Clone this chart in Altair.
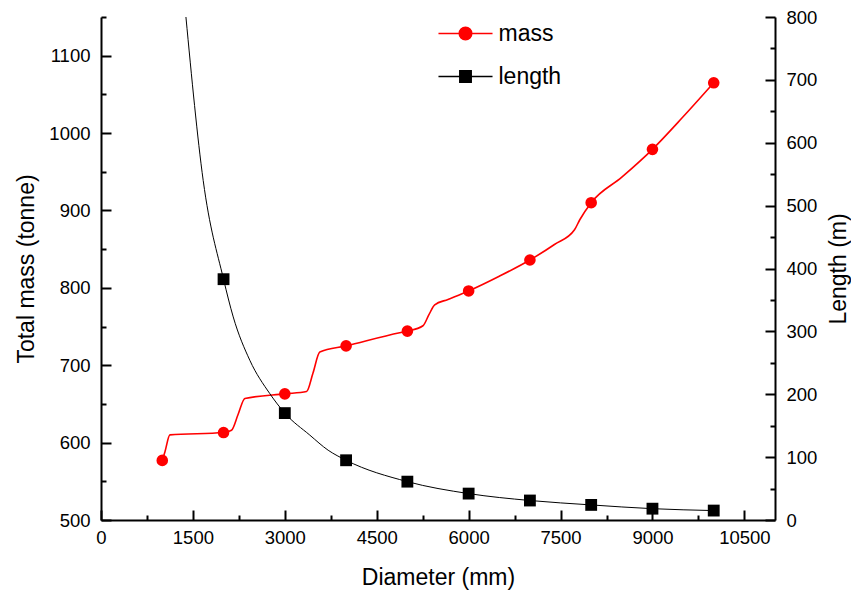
import altair as alt
import pandas as pd

# ---------------- data ----------------
diam_mass = [1000, 2000, 3000, 4000, 5000, 6000, 7000, 8000, 9000, 10000]
mass_pts = [577, 613, 663, 725, 744, 796, 836, 910, 979, 1065]

diam_len = [2000, 3000, 4000, 5000, 6000, 7000, 8000, 9000, 10000]
len_pts = [383, 170, 95, 61, 42, 31, 24, 18, 15]

# continuous model curves
mass_curve_d = [1000, 1043, 1125, 2000, 2130, 2240, 2348, 3000, 3355, 3460, 3571,
                4000, 4875, 5000, 5255, 5350, 5446, 5663, 6000, 6500, 7000, 7400,
                7728, 7814, 8000, 8500, 9000, 9500, 10000]
mass_curve_v = [577, 588, 610, 613, 616, 637, 657, 663, 666, 690, 717,
                725, 742, 744, 751, 765, 778, 785, 796, 815, 836, 856,
                875, 888, 910, 943, 979, 1021, 1065]

len_curve_d = [1386, 1668, 2000, 2158, 2429, 2755, 3000, 3408, 3707, 4000,
               5000, 6000, 7000, 8000, 9000, 10000]
len_curve_v = [800, 540, 383, 323, 254, 201, 170, 135, 111, 95,
               61, 42, 31, 24, 18, 15]

series_names = ["mass", "length"]
series_colors = ["#ff0000", "#000000"]

x_ticks = [0, 1500, 3000, 4500, 6000, 7500, 9000, 10500]
x_minor = [750, 2250, 3750, 5250, 6750, 8250, 9750]
yl_ticks = [500, 600, 700, 800, 900, 1000, 1100]
yl_minor = [550, 650, 750, 850, 950, 1050, 1150]
yr_ticks = [0, 100, 200, 300, 400, 500, 600, 700, 800]
yr_minor = [50, 150, 250, 350, 450, 550, 650, 750]

# ---------------- tables ----------------
mass_df = pd.DataFrame({"d": diam_mass, "v": mass_pts})
len_df = pd.DataFrame({"d": diam_len, "v": len_pts})
mass_curve = pd.DataFrame({"d": mass_curve_d, "v": mass_curve_v})
len_curve = pd.DataFrame({"d": len_curve_d, "v": len_curve_v})
legend_df = pd.DataFrame({"series": series_names})

W, H = 674, 503
FONT = "Liberation Sans"

xs = alt.Scale(domain=[0, 11000], nice=False, zero=False)
yls = alt.Scale(domain=[500, 1150], nice=False, zero=False)
yrs = alt.Scale(domain=[0, 800], nice=False, zero=False)

common = dict(grid=False, labelFont=FONT, labelColor="black", titleFont=FONT,
              titleColor="black", titleFontWeight="normal")


def main_axis(orient, values, title, pad, **kw):
    return alt.Axis(orient=orient, values=values, format="d", title=title,
                    labelFontSize=18.5, labelPadding=pad, ticks=False, tickSize=0,
                    domain=True, domainColor="black", domainWidth=2,
                    titleFontSize=23, labelOverlap=False, labelFlush=False,
                    **common, **kw)


def tick_axis(orient, offset, values, size):
    return alt.Axis(orient=orient, offset=offset, values=values, labels=False,
                    domain=False, ticks=True, tickSize=size, tickWidth=2,
                    tickColor="black", title=None, grid=False)


x_main = main_axis("bottom", x_ticks, "Diameter (mm)", 8,
                   titleX=W / 2, titleY=64, titleAlign="center",
                   titleBaseline="alphabetic")
x_major = tick_axis("top", -H, x_ticks, 10)
x_min = tick_axis("top", -H, x_minor, 5)

yl_main = main_axis("left", yl_ticks, "Total mass (tonne)", 11,
                    titleX=-75, titleY=H / 2, titleAngle=270,
                    titleAlign="center", titleBaseline="middle")
yl_major = tick_axis("right", -W, yl_ticks, 10)
yl_min = tick_axis("right", -W, yl_minor, 5)

yr_main = main_axis("right", yr_ticks, "Length (m)", 11,
                    titleX=63, titleY=H / 2, titleAngle=270,
                    titleAlign="center", titleBaseline="middle")
yr_major = tick_axis("left", -W, yr_ticks, 10)
yr_min = tick_axis("left", -W, yr_minor, 5)

mass_line = alt.Chart(mass_curve).mark_line(
    color="#ff0000", strokeWidth=1.6, interpolate="monotone", clip=True
).encode(
    x=alt.X("d:Q", scale=xs, axis=x_main),
    y=alt.Y("v:Q", scale=yls, axis=yl_main),
)
mass_points = alt.Chart(mass_df).mark_point(
    shape="circle", filled=True, color="#ff0000", size=135, opacity=1
).encode(
    x=alt.X("d:Q", scale=xs, axis=x_major),
    y=alt.Y("v:Q", scale=yls, axis=yl_major),
)
mass_ghost = alt.Chart(mass_df).mark_point(opacity=0).encode(
    x=alt.X("d:Q", scale=xs, axis=x_min),
    y=alt.Y("v:Q", scale=yls, axis=yl_min),
)

len_line = alt.Chart(len_curve).mark_line(
    color="#000000", strokeWidth=1, interpolate="monotone", clip=True
).encode(
    x=alt.X("d:Q", scale=xs, axis=None),
    y=alt.Y("v:Q", scale=yrs, axis=yr_main),
)
len_points = alt.Chart(len_df).mark_point(
    shape="square", filled=True, color="#000000", size=140, opacity=1, clip=True
).encode(
    x=alt.X("d:Q", scale=xs, axis=None),
    y=alt.Y("v:Q", scale=yrs, axis=yr_major),
)
len_ghost = alt.Chart(len_df).mark_point(opacity=0).encode(
    x=alt.X("d:Q", scale=xs, axis=None),
    y=alt.Y("v:Q", scale=yrs, axis=yr_min),
)

# legend symbols: line with marker (unit = 11.5 px)
mass_sym = ("M-2.35,0L2.35,0M-0.55,0A0.55,0.55,0,1,1,0.55,0"
            "A0.55,0.55,0,1,1,-0.55,0Z")
len_sym = "M-2.35,0L2.35,0M-0.5,-0.5L0.5,-0.5L0.5,0.5L-0.5,0.5Z"

leg = alt.Legend(title=None, orient="none", legendX=352, legendY=4,
                 labelFont=FONT, labelFontSize=23, labelColor="black",
                 symbolSize=529, symbolStrokeWidth=1.4, symbolOpacity=1,
                 labelOffset=20.5, rowPadding=18)

legend_layer = alt.Chart(legend_df).mark_point(filled=True, opacity=0).encode(
    fill=alt.Fill("series:N", scale=alt.Scale(domain=series_names, range=series_colors), legend=leg),
    stroke=alt.Stroke("series:N", scale=alt.Scale(domain=series_names, range=series_colors), legend=leg),
    shape=alt.Shape("series:N", scale=alt.Scale(domain=series_names, range=[mass_sym, len_sym]), legend=leg),
)

chart = alt.layer(
    mass_line, mass_points, mass_ghost, len_line, len_points, len_ghost, legend_layer
).resolve_scale(
    y="independent"
).resolve_axis(
    x="independent", y="independent"
).properties(
    width=W, height=H,
    autosize=alt.AutoSizeParams(type="none"),
    padding={"left": 93, "top": 9, "right": 76, "bottom": 75},
    background="white",
).configure_view(stroke=None)

chart.save("out.html", embed_options={"renderer": "svg", "actions": False})
